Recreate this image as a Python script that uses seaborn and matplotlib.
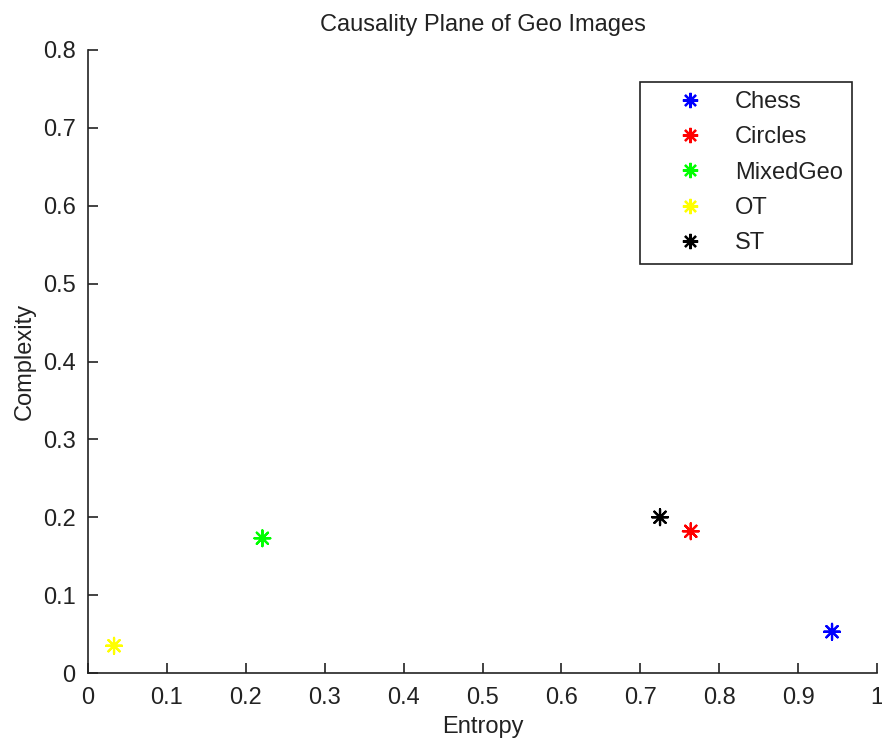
import matplotlib
matplotlib.use("Agg")
import matplotlib.pyplot as plt
from matplotlib.lines import Line2D
import seaborn as sns
import pandas as pd

# Image classes placed on the entropy-complexity causality plane
categories = ["Chess", "Circles", "MixedGeo", "OT", "ST"]
entropy = [0.943, 0.764, 0.221, 0.033, 0.725]
complexity = [0.053, 0.182, 0.173, 0.035, 0.200]
colors = ["#0000ff", "#ff0000", "#00ff00", "#ffff00", "#000000"]

x_ticks = [0, 0.1, 0.2, 0.3, 0.4, 0.5, 0.6, 0.7, 0.8, 0.9, 1]
x_tick_labels = ["0", "0.1", "0.2", "0.3", "0.4", "0.5", "0.6", "0.7", "0.8", "0.9", "1"]
y_ticks = [0, 0.1, 0.2, 0.3, 0.4, 0.5, 0.6, 0.7, 0.8]
y_tick_labels = ["0", "0.1", "0.2", "0.3", "0.4", "0.5", "0.6", "0.7", "0.8"]

df = pd.DataFrame({"Image": categories, "Entropy": entropy, "Complexity": complexity})
palette = dict(zip(categories, colors))

sns.set_theme(style="white")
plt.rcParams["font.family"] = ["Liberation Sans", "DejaVu Sans"]
fs = 17

fig = plt.figure(figsize=(8.82, 7.38), dpi=100)
ax = fig.add_axes([88 / 882, 1 - 673 / 738, (877 - 88) / 882, (673 - 50) / 738])

asterisk = (8, 2, 0)
sns.scatterplot(data=df, x="Entropy", y="Complexity", hue="Image", palette=palette,
                marker=asterisk, s=130, linewidth=1.6, legend=False, ax=ax)

ax.set_xlim(0, 1)
ax.set_ylim(0, 0.8)
ax.set_xticks(x_ticks)
ax.set_xticklabels(x_tick_labels, fontsize=fs, color="#222222")
ax.set_yticks(y_ticks)
ax.set_yticklabels(y_tick_labels, fontsize=fs, color="#222222")
ax.tick_params(axis="both", direction="in", length=7, width=1.2, color="#222222",
               bottom=True, left=True)
ax.tick_params(axis="x", pad=10)
ax.tick_params(axis="y", pad=9)

for side in ["top", "right"]:
    ax.spines[side].set_visible(False)
for side in ["left", "bottom"]:
    ax.spines[side].set_color("#222222")
    ax.spines[side].set_linewidth(1.2)

ax.set_xlabel("Entropy", fontsize=fs, color="#222222", labelpad=5)
ax.set_ylabel("Complexity", fontsize=fs, color="#222222", labelpad=5)
ax.set_title("Causality Plane of Geo Images", fontsize=fs, color="#222222", pad=14)

handles = [Line2D([0], [0], linestyle="none", marker=asterisk, markersize=11,
                  markeredgewidth=1.6, color=c, label=lab)
           for lab, c in zip(categories, colors)]
leg = ax.legend(handles=handles, loc="upper right", bbox_to_anchor=(0.9683, 0.949),
                fontsize=fs, frameon=True, fancybox=False, framealpha=1,
                edgecolor="#222222", handlelength=3.4, handletextpad=0.2,
                borderpad=0.4, labelspacing=0.56, borderaxespad=0)
leg.get_frame().set_linewidth(1.2)
for t in leg.get_texts():
    t.set_color("#222222")

fig.savefig("out.png", dpi=100)
